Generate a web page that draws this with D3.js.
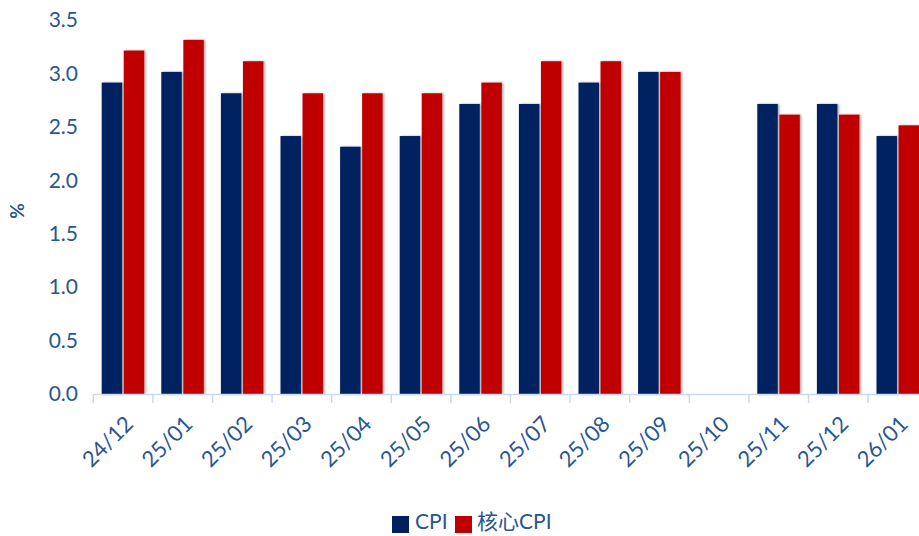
<!DOCTYPE html>
<html><head><meta charset="utf-8">
<script src="https://cdn.jsdelivr.net/npm/d3@7"></script>
<style>body{margin:0;background:#fff;}svg{display:block;}</style>
</head><body><svg id="c" width="919" height="536"></svg>
<script>
const categories = ["24/12","25/01","25/02","25/03","25/04","25/05","25/06","25/07","25/08","25/09","25/10","25/11","25/12","26/01"];
const cpi =     [2.9,3.0,2.8,2.4,2.3,2.4,2.7,2.7,2.9,3.0,null,2.7,2.7,2.4];
const coreCpi = [3.2,3.3,3.1,2.8,2.8,2.8,2.9,3.1,3.1,3.0,null,2.6,2.6,2.5];
const yTicks = [0,0.5,1.0,1.5,2.0,2.5,3.0,3.5];
const seriesNames = ["CPI","核心CPI"];
const colors = ["#002060","#C00000"];
const textColor = "#2A5690";
const font = "Lato, 'Noto Sans CJK SC', sans-serif";

const svg = d3.select("#c");
const defs = svg.append("defs");
const f = defs.append("filter").attr("id","sh").attr("x","-20%").attr("y","-5%").attr("width","150%").attr("height","110%");
f.append("feDropShadow").attr("dx",1.5).attr("dy",0).attr("stdDeviation",1.2).attr("flood-color","#000").attr("flood-opacity",0.35);

const x0 = 93.3, band = 59.6;
const x = d3.scaleBand().domain(categories).range([x0, x0 + band*categories.length]).paddingInner(0).paddingOuter(0);
const y = d3.scaleLinear().domain([0,3.5]).range([394,20]);

// y axis labels
svg.append("g").selectAll("text").data(yTicks).join("text")
  .attr("x",78).attr("y",d=>y(d)).attr("dy","0.35em").attr("text-anchor","end")
  .attr("font-family",font).attr("font-size",21).attr("fill",textColor)
  .text(d=>d.toFixed(1));

svg.append("text").attr("transform","translate(24,211) rotate(-90)").attr("text-anchor","middle")
  .attr("font-family",font).attr("font-size",19).attr("font-weight","bold").attr("fill",textColor).text("%");

// bars
const sub = d3.scaleBand().domain([0,1]).range([8.4, 8.4+42.5]).paddingInner(0.07);
const g = svg.append("g");
categories.forEach((c,i)=>{
  [cpi[i], coreCpi[i]].forEach((v,j)=>{
    if (v==null) return;
    g.append("rect").attr("x",x(c)+sub(j)).attr("width",sub.bandwidth())
      .attr("y",y(v)-1.5).attr("height",394-y(v)+1.5)
      .attr("fill",colors[j]).attr("filter","url(#sh)");
  });
});

// x axis
const ax = svg.append("g");
ax.append("line").attr("x1",x0).attr("x2",919).attr("y1",394.5).attr("y2",394.5).attr("stroke","#C9DAF0").attr("stroke-width",1.5);
ax.selectAll("line.t").data(categories).join("line").attr("class","t")
  .attr("x1",d=>x(d)).attr("x2",d=>x(d)).attr("y1",394).attr("y2",403)
  .attr("stroke","#C9DAF0").attr("stroke-width",1.5);
ax.selectAll("text").data(categories).join("text")
  .attr("transform",d=>`translate(${x(d)+band/2+6},${420}) rotate(-45)`)
  .attr("text-anchor","end").attr("dy","0.35em")
  .attr("font-family",font).attr("font-size",22).attr("fill",textColor).text(d=>d);

// legend
const lg = svg.append("g");
const items = [{x:392,tx:415},{x:455,tx:477}];
seriesNames.forEach((n,i)=>{
  lg.append("rect").attr("x",items[i].x).attr("y",516).attr("width",17).attr("height",17).attr("fill",colors[i]);
  lg.append("text").attr("x",items[i].tx).attr("y",522).attr("dy","0.35em")
    .attr("font-family",font).attr("font-size",21).attr("fill",textColor).text(n);
});
</script></body></html>
